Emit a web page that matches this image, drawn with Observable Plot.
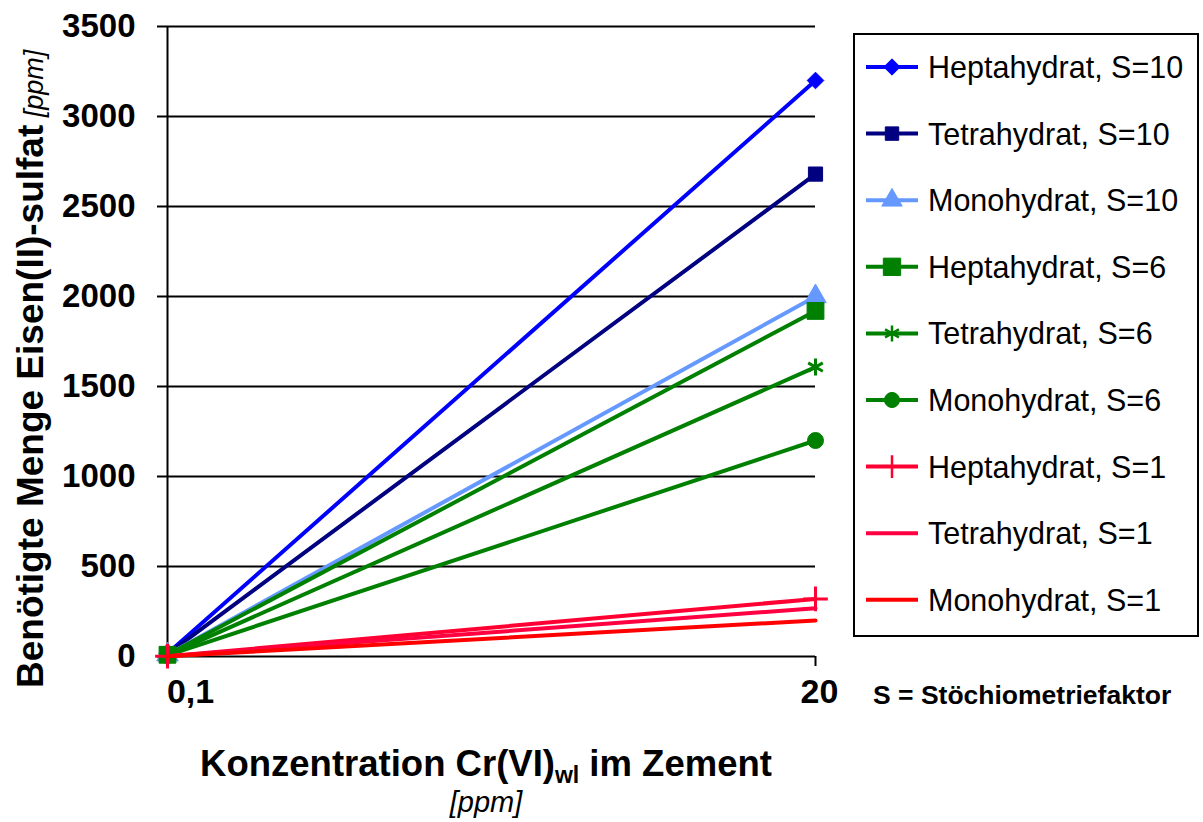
<!DOCTYPE html>
<html>
<head>
<meta charset="utf-8">
<script src="https://cdn.jsdelivr.net/npm/d3@7"></script>
<script src="https://cdn.jsdelivr.net/npm/@observablehq/plot@0.6"></script>
<style>
  html, body { margin: 0; padding: 0; background: #fff; }
  #chart svg { font-family: "Liberation Sans", Arial, sans-serif; }
</style>
</head>
<body>
<div id="chart"></div>
<script>
const xCategories = ["0,1", "20"];
const seriesNames = [
  "Heptahydrat, S=10", "Tetrahydrat, S=10", "Monohydrat, S=10",
  "Heptahydrat, S=6", "Tetrahydrat, S=6", "Monohydrat, S=6",
  "Heptahydrat, S=1", "Tetrahydrat, S=1", "Monohydrat, S=1"
];
const valuesAt01 = [16, 13.4, 10, 9.6, 8.04, 6, 1.6, 1.34, 1];
const valuesAt20 = [3200, 2680, 2000, 1920, 1608, 1200, 320, 268, 200];
const seriesColors = ["#0000FF", "#000080", "#6699FF", "#008000", "#008000", "#008000", "#FF0033", "#FF0040", "#FF0000"];
const seriesSymbols = ["diamond2", "square", "triangle", "square", "asterisk", "circle", "plus", null, null];
const yTicks = [0, 500, 1000, 1500, 2000, 2500, 3000, 3500];

const rows = [];
seriesNames.forEach((name, i) => {
  rows.push({series: name, x: xCategories[0], y: valuesAt01[i]});
  rows.push({series: name, x: xCategories[1], y: valuesAt20[i]});
});

const W = 1203, H = 822;
const mL = 167, mR = W - 815, mT = 26, mB = H - 656;

const marks = [
  Plot.gridY(yTicks, {stroke: "#000", strokeOpacity: 1, strokeWidth: 2}),
  Plot.ruleX([xCategories[0]], {stroke: "#000", strokeWidth: 2}),
  Plot.axisY({ticks: yTicks, tickSize: 10, tickPadding: 22, tickFormat: d => String(d), fontSize: 33, fontWeight: "bold", fill: "#000", label: null, strokeWidth: 2}),
  Plot.axisX({ticks: xCategories, tickSize: 10, tickFormat: () => "", label: null, strokeWidth: 2}),
  Plot.text([xCategories[0]], {x: d => d, frameAnchor: "bottom", dy: 36, dx: 23, text: d => d, fontSize: 34, fontWeight: "bold", fill: "#000", lineAnchor: "middle"}),
  Plot.text([xCategories[1]], {x: d => d, frameAnchor: "bottom", dy: 36, dx: 4, text: d => d, fontSize: 34, fontWeight: "bold", fill: "#000", lineAnchor: "middle"})
];

seriesNames.forEach((name, i) => {
  const d = rows.filter(r => r.series === name);
  marks.push(Plot.line(d, {x: "x", y: "y", stroke: seriesColors[i], strokeWidth: 4}));
  const sym = seriesSymbols[i];
  if (sym) {
    const strokeSym = sym === "asterisk" || sym === "plus";
    const r = sym === "square" && i === 3 ? 9.5 : (sym === "diamond2" ? 7.5 : (sym === "asterisk" ? 8 : 8));
    marks.push(Plot.dot(d, {
      x: "x", y: "y", symbol: () => sym, r,
      fill: strokeSym ? "none" : seriesColors[i],
      stroke: seriesColors[i], strokeWidth: strokeSym ? 3 : 1
    }));
  }
});

const chart = Plot.plot({
  width: W, height: H,
  marginLeft: mL, marginRight: mR, marginTop: mT, marginBottom: mB,
  x: {type: "point", domain: xCategories, padding: 0},
  y: {domain: [0, 3500]},
  symbol: {type: "identity"},
  marks
});
document.getElementById("chart").appendChild(chart);

const svg = d3.select(chart);

// X axis title
const xt = svg.append("text").attr("x", 486).attr("y", 776).attr("text-anchor", "middle")
  .attr("fill", "#000").attr("font-weight", "bold").attr("font-size", 36.5);
xt.append("tspan").text("Konzentration Cr(VI)");
xt.append("tspan").attr("font-size", 23).attr("dy", 7).text("wl");
xt.append("tspan").attr("dy", -7).text(" im Zement");
svg.append("text").attr("x", 486).attr("y", 812).attr("text-anchor", "middle")
  .attr("fill", "#000").attr("font-style", "italic").attr("font-size", 29).text("[ppm]");

// Y axis title
const yt = svg.append("text").attr("transform", "translate(43,688) rotate(-90)")
  .attr("text-anchor", "start").attr("fill", "#000");
yt.append("tspan").attr("font-weight", "bold").attr("font-size", 37).text("Benötigte Menge Eisen(II)-sulfat");
yt.append("tspan").attr("font-style", "italic").attr("font-size", 27).text(" [ppm]");

// Legend
const lg = svg.append("g").attr("text-anchor", "start");
lg.append("rect").attr("x", 854).attr("y", 34).attr("width", 344).attr("height", 602)
  .attr("fill", "#fff").attr("stroke", "#000").attr("stroke-width", 2);
const symGen = {
  diamond2: () => d3.symbol(d3.symbolDiamond2, 170)(),
  square: (s) => d3.symbol(d3.symbolSquare, s)(),
  triangle: () => d3.symbol(d3.symbolTriangle, 180)(),
  asterisk: () => d3.symbol(d3.symbolAsterisk, 180)(),
  circle: () => d3.symbol(d3.symbolCircle, 180)(),
  plus: () => d3.symbol(d3.symbolPlus, 170)()
};
seriesNames.forEach((name, i) => {
  const cy = 67 + i * 66.6;
  lg.append("line").attr("x1", 866).attr("x2", 918).attr("y1", cy).attr("y2", cy)
    .attr("stroke", seriesColors[i]).attr("stroke-width", 4);
  const sym = seriesSymbols[i];
  if (sym) {
    const strokeSym = sym === "asterisk" || sym === "plus";
    lg.append("path").attr("transform", `translate(892,${cy})`)
      .attr("d", symGen[sym](i === 3 ? 300 : 180))
      .attr("fill", strokeSym ? "none" : seriesColors[i])
      .attr("stroke", seriesColors[i]).attr("stroke-width", strokeSym ? 2.5 : 1);
  }
  lg.append("text").attr("x", 928).attr("y", cy).attr("dy", "0.36em")
    .attr("font-size", 30.5).attr("fill", "#000").attr("text-anchor", "start")
    .text(name);
});

svg.append("text").attr("x", 873).attr("y", 704).attr("fill", "#000").attr("text-anchor", "start")
  .attr("font-weight", "bold").attr("font-size", 26.5).text("S = Stöchiometriefaktor");
</script>
</body>
</html>
